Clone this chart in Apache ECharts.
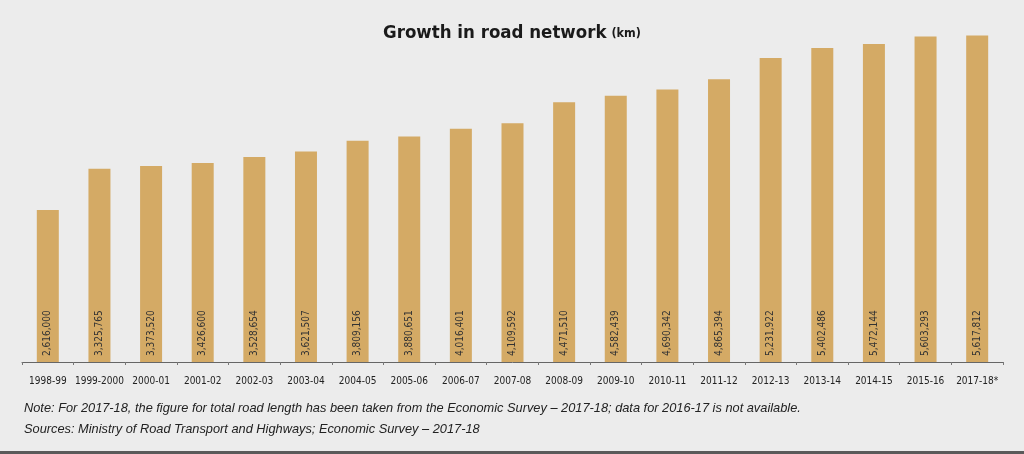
<!DOCTYPE html>
<html>
<head>
<meta charset="utf-8">
<script src="https://cdn.jsdelivr.net/npm/echarts@6/dist/echarts.min.js"></script>
<style>
  html, body { margin: 0; padding: 0; background: #ececec; }
  #chart { width: 1024px; height: 454px; }
</style>
</head>
<body>
<div id="chart"></div>
<script>
  // Growth in road network (km)
  var years = ['1998-99', '1999-2000', '2000-01', '2001-02', '2002-03', '2003-04', '2004-05',
    '2005-06', '2006-07', '2007-08', '2008-09', '2009-10', '2010-11', '2011-12', '2012-13',
    '2013-14', '2014-15', '2015-16', '2017-18*'];
  var roadKm = [2616000, 3325765, 3373520, 3426600, 3528654, 3621507, 3809156, 3880651,
    4016401, 4109592, 4471510, 4582439, 4690342, 4865394, 5231922, 5402486, 5472144,
    5603293, 5617812];
  var noteText = 'Note: For 2017-18, the figure for total road length has been taken from the Economic Survey \u2013 2017-18; data for 2016-17 is not available.';
  var sourceText = 'Sources: Ministry of Road Transport and Highways; Economic Survey \u2013 2017-18';

  var narrow = '"Liberation Sans Narrow", "DejaVu Sans Condensed", "Liberation Sans", sans-serif';
  var noteFont = '"Liberation Sans", Arial, sans-serif';

  var chart = echarts.init(document.getElementById('chart'));
  var option = {
    backgroundColor: '#ececec',
    animation: false,

    title: {
      text: '{a|Growth in road network} {b|(km)}',
      left: 'center',
      top: 19,
      textStyle: {
        rich: {
          a: { fontFamily: narrow, fontWeight: 'bold', fontSize: 18.5, color: '#1a1a1a' },
          b: { fontFamily: narrow, fontWeight: 'bold', fontSize: 12.5, color: '#1a1a1a' }
        }
      }
    },

    grid: { left: 22, right: 21, top: 13.4, bottom: 92 },

    xAxis: {
      type: 'category',
      data: years,
      axisLine: { lineStyle: { color: '#666', width: 1 } },
      axisTick: { show: true, length: 3, lineStyle: { color: '#777' } },
      axisLabel: { color: '#222', fontSize: 10, fontFamily: narrow, margin: 14, interval: 0 }
    },

    yAxis: {
      type: 'value',
      min: 0,
      max: 6000000,
      show: false
    },

    series: [{
      type: 'bar',
      data: roadKm,
      barWidth: 22,
      itemStyle: { color: '#d4aa65' },
      label: {
        show: true,
        position: 'insideBottom',
        rotate: 90,
        align: 'left',
        verticalAlign: 'middle',
        distance: 6,
        fontSize: 10,
        fontFamily: narrow,
        color: '#333',
        formatter: function (p) { return p.value.toLocaleString('en-US'); }
      }
    }],

    graphic: [
      {
        type: 'text', left: 24, top: 402,
        style: { text: noteText, fill: '#222', fontSize: 12.8, fontStyle: 'italic', fontFamily: noteFont }
      },
      {
        type: 'text', left: 24, top: 423,
        style: { text: sourceText, fill: '#222', fontSize: 12.8, fontStyle: 'italic', fontFamily: noteFont }
      },
      {
        type: 'rect', left: 0, top: 451,
        shape: { width: 1024, height: 3 },
        style: { fill: '#5a5a5a' }
      }
    ]
  };
  chart.setOption(option);
</script>
</body>
</html>
